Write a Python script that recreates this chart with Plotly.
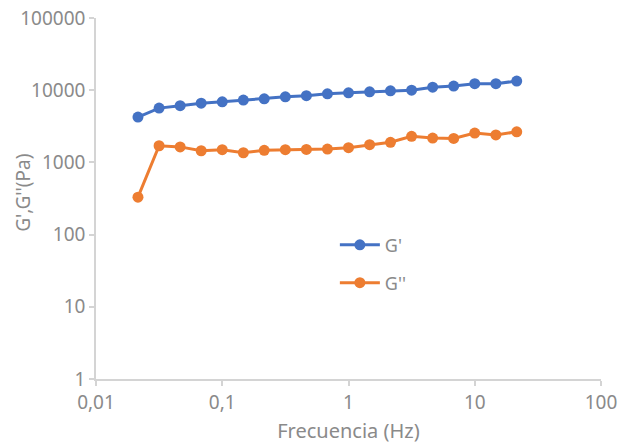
import plotly.graph_objects as go

# Oscillatory frequency sweep: storage (G') and loss (G'') moduli
freq_hz = [0.0215, 0.0316, 0.0464, 0.0681, 0.1, 0.147, 0.215, 0.316, 0.464,
           0.681, 1.0, 1.47, 2.15, 3.16, 4.64, 6.81, 10.0, 14.7, 21.5]
g_storage = [4250, 5650, 6100, 6600, 6900, 7300, 7600, 8100, 8400, 8900,
             9200, 9500, 9800, 10000, 11000, 11400, 12300, 12300, 13400]
g_loss = [330, 1700, 1640, 1450, 1500, 1360, 1470, 1500, 1510, 1530,
          1600, 1760, 1900, 2300, 2170, 2150, 2550, 2400, 2650]

x_tickvals = [0.01, 0.1, 1, 10, 100]
x_ticktext = ["0,01", "0,1", "1", "10", "100"]
y_tickvals = [1, 10, 100, 1000, 10000, 100000]
y_ticktext = ["1", "10", "100", "1000", "10000", "100000"]

BLUE = "#4472C4"
ORANGE = "#ED7D31"
GREY_TXT = "#8a8a8a"
GREY_AX = "#d4d4d4"
FONT = "Noto Sans"

fig = go.Figure()
fig.add_trace(go.Scatter(
    x=freq_hz, y=g_storage, name="G'", mode="lines+markers",
    line=dict(color=BLUE, width=3), marker=dict(color=BLUE, size=11),
    showlegend=True, legend="legend"))
fig.add_trace(go.Scatter(
    x=freq_hz, y=g_loss, name="G''", mode="lines+markers",
    line=dict(color=ORANGE, width=3), marker=dict(color=ORANGE, size=11),
    showlegend=True, legend="legend2"))

axis_common = dict(
    showgrid=False, zeroline=False, showline=True, linecolor=GREY_AX,
    linewidth=1.5, ticks="outside", tickcolor=GREY_AX, ticklen=5,
    tickwidth=1.5, automargin=False,
    tickfont=dict(family=FONT, size=19, color=GREY_TXT),
)

legend_common = dict(xanchor="left", yanchor="middle",
                     bgcolor="rgba(0,0,0,0)", itemwidth=40,
                     font=dict(family=FONT, size=18, color=GREY_TXT))

fig.update_layout(
    width=622, height=444,
    margin=dict(l=96, r=21, t=18, b=65),
    paper_bgcolor="white", plot_bgcolor="white",
    showlegend=True,
    font=dict(family=FONT, color=GREY_TXT),
    xaxis=dict(type="log", range=[-2, 2], tickvals=x_tickvals,
               ticktext=x_ticktext,
               title=dict(text="Frecuencia (Hz)",
                          font=dict(family=FONT, size=20, color=GREY_TXT),
                          standoff=10),
               **axis_common),
    yaxis=dict(type="log", range=[0, 5], tickvals=y_tickvals,
               ticktext=y_ticktext, **axis_common),
    legend=dict(x=0.473, y=0.371, **legend_common),
    legend2=dict(x=0.473, y=0.266, **legend_common),
    annotations=[dict(
        text="G',G''(Pa)", textangle=-90, xref="paper", yref="paper",
        x=-0.145, y=0.515, xanchor="center", yanchor="middle",
        showarrow=False, font=dict(family=FONT, size=19, color=GREY_TXT))],
)

fig.write_html("out.html")
